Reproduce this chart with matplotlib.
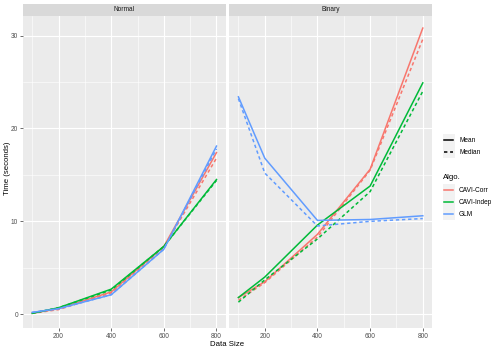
import numpy as np
import matplotlib
matplotlib.use('Agg')
import matplotlib.pyplot as plt
from matplotlib.lines import Line2D
from matplotlib.patches import Rectangle

plt.rcParams['font.family'] = ['Liberation Sans', 'DejaVu Sans']

sizes = [100, 200, 400, 600, 800]
panels = ['Normal', 'Binary']
algos = ['CAVI-Corr', 'CAVI-Indep', 'GLM']
colors = {'CAVI-Corr': '#F8766D', 'CAVI-Indep': '#00BA38', 'GLM': '#619CFF'}

# mean / median times (seconds)
normal_mean = {
    'CAVI-Corr': [0.1, 0.6, 2.4, 7.3, 17.4],
    'CAVI-Indep': [0.1, 0.7, 2.7, 7.3, 14.5],
    'GLM': [0.2, 0.6, 2.1, 7.0, 18.1],
}
normal_median = {
    'CAVI-Corr': [0.1, 0.5, 2.3, 7.2, 16.8],
    'CAVI-Indep': [0.1, 0.7, 2.6, 7.3, 14.4],
    'GLM': [0.2, 0.6, 2.1, 7.0, 17.8],
}
binary_mean = {
    'CAVI-Corr': [1.8, 3.5, 8.6, 15.6, 30.8],
    'CAVI-Indep': [1.8, 4.0, 9.6, 13.8, 24.9],
    'GLM': [23.4, 16.8, 10.1, 10.2, 10.6],
}
binary_median = {
    'CAVI-Corr': [1.5, 3.4, 8.3, 15.5, 29.6],
    'CAVI-Indep': [1.3, 3.7, 8.1, 13.2, 24.0],
    'GLM': [23.2, 15.2, 9.5, 10.0, 10.3],
}
data = {'Normal': (normal_mean, normal_median), 'Binary': (binary_mean, binary_median)}

W, H = 500, 350
fig = plt.figure(figsize=(5, 3.5), dpi=100)


def rect(x0, y0, x1, y1):
    return [x0 / W, 1 - y1 / H, (x1 - x0) / W, (y1 - y0) / H]


panel_x = [(23, 225.7), (229.2, 432)]
top, bottom, strip_top = 16, 328, 4
dash = (2.2, 1.8)
small, big = 4.7, 5.6

for i, name in enumerate(panels):
    x0, x1 = panel_x[i]
    ax = fig.add_axes(rect(x0, top, x1, bottom))
    ax.set_facecolor('#EBEBEB')
    for s in ax.spines.values():
        s.set_visible(False)
    ax.set_xlim(65, 835)
    ax.set_ylim(-1.48, 32.1)
    ax.set_xticks([200, 400, 600, 800])
    ax.set_xticks([100, 300, 500, 700], minor=True)
    ax.set_yticks([0, 10, 20, 30])
    ax.set_yticks([5, 15, 25], minor=True)
    ax.grid(which='major', color='white', lw=0.8)
    ax.grid(which='minor', color='white', lw=0.4)
    ax.set_axisbelow(True)
    ax.tick_params(which='minor', length=0)
    ax.tick_params(which='major', length=2.3, width=0.5, color='#333333',
                   labelsize=small, labelcolor='#4D4D4D', pad=1.2)
    if i == 1:
        ax.tick_params(axis='y', which='major', length=0, labelleft=False)
    mean, median = data[name]
    for a in algos:
        ax.plot(sizes, mean[a], color=colors[a], lw=1.1)
        ax.plot(sizes, median[a], color=colors[a], lw=1.1, dashes=dash)
    sax = fig.add_axes(rect(x0, strip_top, x1, 15.7))
    sax.set_facecolor('#D9D9D9')
    sax.set_xticks([])
    sax.set_yticks([])
    for s in sax.spines.values():
        s.set_visible(False)
    sax.text(0.5, 0.5, name, ha='center', va='center', fontsize=small,
             color='#1A1A1A', transform=sax.transAxes)

fig.text(227.5 / W, 1 - 344 / H, 'Data Size', ha='center', va='center', fontsize=big)
fig.text(8 / W, 1 - 168 / H, 'Time (seconds)', ha='center', va='center',
         rotation=90, fontsize=big)


# legends drawn by hand so they sit where ggplot put them
def key(yc, label, color, dashed=False):
    fig.add_artist(Rectangle((442.5 / W, 1 - (yc + 6) / H), 12 / W, 12 / H,
                             transform=fig.transFigure, facecolor='#F2F2F2',
                             edgecolor='none'))
    ln = Line2D([444 / W, 453 / W], [1 - yc / H] * 2, color=color, lw=1.1,
                transform=fig.transFigure)
    if dashed:
        ln.set_dashes(dash)
    fig.add_artist(ln)
    fig.text(459 / W, 1 - yc / H, label, ha='left', va='center', fontsize=small)


key(140.3, 'Mean', 'black')
key(152.3, 'Median', 'black', dashed=True)
fig.text(442.5 / W, 1 - 177.3 / H, 'Algo.', ha='left', va='center', fontsize=big)
for a, yc in zip(algos, [190.3, 202.2, 214.3]):
    key(yc, a, colors[a])

fig.savefig('out.png', dpi=100)
